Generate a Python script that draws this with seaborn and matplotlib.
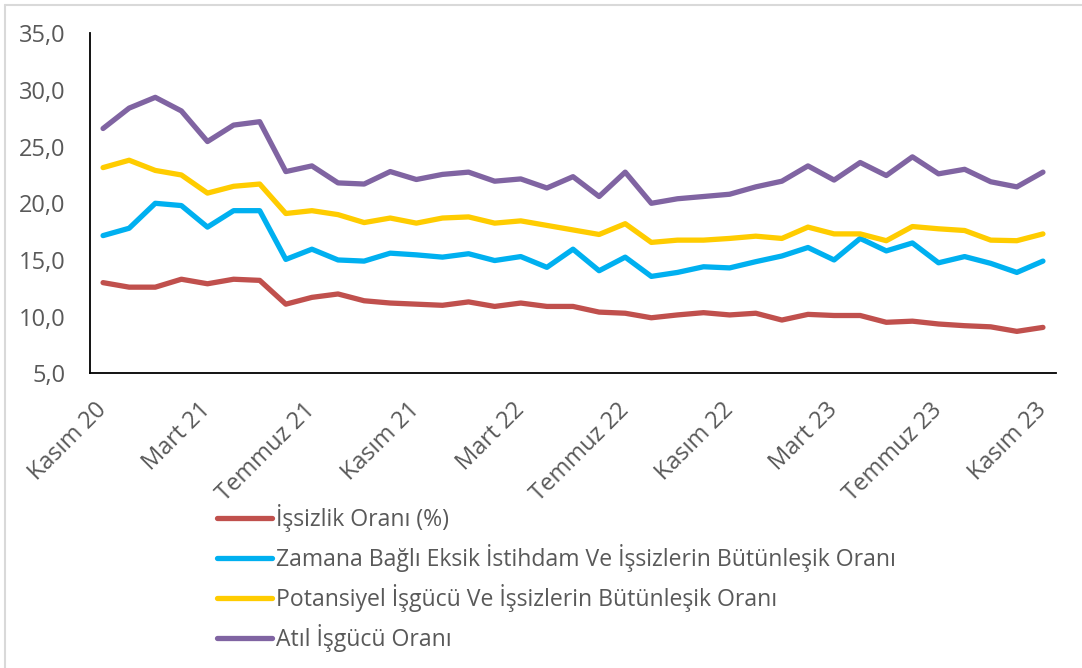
import numpy as np
import pandas as pd
import matplotlib
matplotlib.use("Agg")
import matplotlib.pyplot as plt
import matplotlib.lines as mlines
import seaborn as sns

# Kasım 2020 - Kasım 2023, aylık
months = pd.date_range("2020-11-01", "2023-11-01", freq="MS")
month_names = {1: "Ocak", 2: "Şubat", 3: "Mart", 4: "Nisan", 5: "Mayıs", 6: "Haziran",
               7: "Temmuz", 8: "Ağustos", 9: "Eylül", 10: "Ekim", 11: "Kasım", 12: "Aralık"}

issizlik = [13.0, 12.6, 12.6, 13.3, 12.9, 13.3, 13.2, 11.1, 11.7, 12.0, 11.4, 11.2,
            11.1, 11.0, 11.3, 10.9, 11.2, 10.9, 10.9, 10.4, 10.3, 9.9, 10.15, 10.35,
            10.15, 10.3, 9.7, 10.2, 10.1, 10.1, 9.5, 9.6, 9.35, 9.2, 9.1, 8.7, 9.05]
zamana_bagli = [17.15, 17.8, 20.0, 19.8, 17.9, 19.35, 19.35, 15.05, 15.95, 15.0, 14.9, 15.6,
                15.45, 15.25, 15.55, 14.95, 15.3, 14.35, 15.95, 14.05, 15.25, 13.55, 13.9, 14.4,
                14.3, 14.85, 15.35, 16.1, 15.0, 16.9, 15.8, 16.5, 14.75, 15.3, 14.7, 13.9, 14.9]
potansiyel = [23.15, 23.8, 22.9, 22.5, 20.9, 21.5, 21.7, 19.1, 19.35, 19.0, 18.3, 18.7,
              18.25, 18.7, 18.8, 18.25, 18.45, 18.05, 17.65, 17.25, 18.2, 16.55, 16.75, 16.75,
              16.9, 17.1, 16.9, 17.9, 17.3, 17.3, 16.7, 17.95, 17.75, 17.6, 16.75, 16.7, 17.3]
atil = [26.6, 28.4, 29.35, 28.15, 25.45, 26.9, 27.2, 22.8, 23.3, 21.8, 21.7, 22.8,
        22.1, 22.55, 22.75, 21.95, 22.15, 21.35, 22.35, 20.6, 22.75, 20.0, 20.4, 20.6,
        20.8, 21.45, 21.95, 23.3, 22.05, 23.6, 22.45, 24.1, 22.6, 23.0, 21.9, 21.45, 22.75]

series = {
    "İşsizlik Oranı (%)": issizlik,
    "Zamana Bağlı Eksik İstihdam Ve İşsizlerin Bütünleşik Oranı": zamana_bagli,
    "Potansiyel İşgücü Ve İşsizlerin Bütünleşik Oranı": potansiyel,
    "Atıl İşgücü Oranı": atil,
}
colors = ["#C0504D", "#00B0F0", "#FFCC00", "#8064A2"]

sns.set_style("white")
plt.rcParams["font.family"] = ["Open Sans", "DejaVu Sans"]
gray = "#595959"

fig = plt.figure(figsize=(10.82, 6.68), dpi=100)
ax = fig.add_axes([90 / 1082, 1 - 373.3 / 668, 966 / 1082, 340 / 668])

pos = np.arange(len(months))
for (name, vals), c in zip(series.items(), colors):
    df = pd.DataFrame({"x": pos, "y": vals})
    sns.lineplot(data=df, x="x", y="y", ax=ax, color=c, linewidth=3.8, label=name,
                 solid_capstyle="round", solid_joinstyle="round")

ax.set_xlim(-0.5, len(months) - 0.5)
ax.set_ylim(5, 35)
ax.set_yticks(np.arange(5, 36, 5))
ax.set_yticklabels([f"{v:.1f}".replace(".", ",") for v in np.arange(5, 36, 5)])

# tick marks at category boundaries, labels at category centers
lab_idx = pos[::4]
ax.set_xticks(lab_idx - 0.5)
ax.set_xticklabels([])
ax.set_xticks(lab_idx, minor=True)
ax.set_xticklabels([f"{month_names[months[i].month]} {months[i].year % 100}" for i in lab_idx],
                   minor=True)
ax.tick_params(axis="x", which="major", direction="out", length=5.5, width=1.3, color="black")
ax.tick_params(axis="x", which="minor", length=0, pad=24, labelsize=17, labelcolor=gray)
for t in ax.get_xticklabels(minor=True):
    t.set_rotation(45)
    t.set_ha("right")
    t.set_va("center")
    t.set_rotation_mode("anchor")
ax.tick_params(axis="y", direction="inout", length=12.7, width=1.3, color="black",
               pad=11.5, labelsize=17, labelcolor=gray)

ax.set_xlabel("")
ax.set_ylabel("")
for s in ["top", "right"]:
    ax.spines[s].set_visible(False)
for s in ["left", "bottom"]:
    ax.spines[s].set_color("black")
    ax.spines[s].set_linewidth(1.3)
ax.grid(False)

handles, labels = ax.get_legend_handles_labels()
ax.get_legend().remove()
leg = fig.legend(handles, labels, loc="upper left", bbox_to_anchor=(217 / 1082, 1 - 504 / 668),
                 frameon=False, fontsize=16.6, handlelength=2.39, handletextpad=0.17,
                 labelspacing=0.52, borderpad=0, borderaxespad=0)
for t in leg.get_texts():
    t.set_color(gray)

# chart area border (left and top visible)
fig.add_artist(mlines.Line2D([4.5 / 1082, 4.5 / 1082], [0, 1 - 4.5 / 668], color="#D9D9D9", lw=1.5))
fig.add_artist(mlines.Line2D([4.5 / 1082, 1], [1 - 4.5 / 668, 1 - 4.5 / 668], color="#D9D9D9", lw=1.5))

fig.savefig("out.png", dpi=100)
